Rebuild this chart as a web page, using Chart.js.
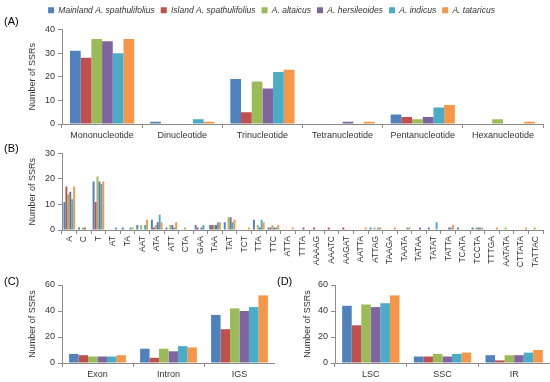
<!DOCTYPE html>
<html><head><meta charset="utf-8">
<script src="https://cdn.jsdelivr.net/npm/chart.js@4.4.0/dist/chart.umd.min.js"></script>
<style>
body{margin:0;background:#fff;width:550px;height:382px;overflow:hidden;position:relative;font-family:"Liberation Sans",Arial,sans-serif}
canvas{position:absolute}
.pl{position:absolute;font-size:11px;color:#000;line-height:12px}
</style></head><body>
<canvas id="cA" width="550" height="145" style="left:0;top:0"></canvas>
<canvas id="cB" width="550" height="125" style="left:0;top:145px"></canvas>
<canvas id="cC" width="275" height="112" style="left:0;top:270px"></canvas>
<canvas id="cD" width="275" height="112" style="left:275px;top:270px"></canvas>
<div class="pl" style="left:4px;top:15px">(A)</div>
<div class="pl" style="left:4px;top:142px">(B)</div>
<div class="pl" style="left:4px;top:275px">(C)</div>
<div class="pl" style="left:277px;top:275px">(D)</div>
<script>
const seriesNames = ['Mainland A. spathulifolius','Island A. spathulifolius','A. altaicus','A. hersileoides','A. indicus','A. tataricus'];
const seriesColors = ['#4F81BD','#C0504D','#9BBB59','#8064A2','#4BACC6','#F79646'];

// (A) SSR types
const typeCategories = ['Mononucleotide','Dinucleotide','Trinucleotide','Tetranucleotide','Pentanucleotide','Hexanucleotide'];
const typeMainland     = [31,1,19,0,4,0];
const typeIsland       = [28,0,5,0,3,0];
const typeAltaicus     = [36,0,18,0,2,2];
const typeHersileoides = [35,0,15,1,3,0];
const typeIndicus      = [30,2,22,0,7,0];
const typeTataricus    = [36,1,23,1,8,1];

// (B) repeat motifs
const motifCategories = ['A','C','T','AT','TA','AAT','ATA','ATT','CTA','GAA','TAA','TAT','TCT','TTA','TTC','ATTA','TTTA','AAAAG','AAATC','AAGAT','AATTA','ATTAG','TAAGA','TAATA','TATAA','TATAT','TATTA','TCATA','TCCTA','TTTGA','AATATA','CTTATA','TATTAC'];
const motifMainland     = [11,1,19,0,1,2,4,1,0,2,2,3,0,4,1,0,0,0,0,0,0,1,0,0,0,1,0,1,1,0,0,0,0];
const motifIsland       = [17,0,11,0,0,0,1,0,0,1,2,0,0,0,1,0,0,1,1,1,0,0,0,0,0,0,0,0,0,0,0,0,0];
const motifAltaicus     = [14,1,21,0,0,2,2,2,1,0,2,5,0,2,2,0,0,0,0,0,0,1,0,0,0,0,0,0,1,0,1,0,1];
const motifHersileoides = [15,1,19,0,0,0,3,2,0,1,2,5,0,1,1,0,1,0,0,0,0,0,0,0,1,0,1,0,1,0,0,0,0];
const motifIndicus      = [12,0,18,1,1,2,6,1,0,2,3,3,0,4,1,0,0,0,0,0,0,1,0,1,0,3,1,0,1,0,0,0,0];
const motifTataricus    = [17,0,19,0,1,4,3,3,0,0,3,4,1,3,2,1,0,0,0,0,1,1,1,1,0,0,2,0,1,1,0,1,0];

// (C) genic location
const locCategories = ['Exon','Intron','IGS'];
const locMainland     = [7,11,37];
const locIsland       = [6,4,26];
const locAltaicus     = [5,11,42];
const locHersileoides = [5,9,40];
const locIndicus      = [5,13,43];
const locTataricus    = [6,12,52];

// (D) genome region
const regCategories = ['LSC','SSC','IR'];
const regMainland     = [44,5,6];
const regIsland       = [29,5,2];
const regAltaicus     = [45,7,6];
const regHersileoides = [43,5,6];
const regIndicus      = [46,7,8];
const regTataricus    = [52,8,10];

Chart.defaults.font.family = '"Liberation Sans", Arial, sans-serif';
Chart.defaults.color = '#404040';
Chart.defaults.animation = false;
const AX = '#8c8c8c';

const legendGap = {
  id:'legendGap',
  beforeInit(chart, args, opts){
    if(!chart.legend) return;
    const fit = chart.legend.fit;
    chart.legend.fit = function(){ fit.call(this); this.height += opts.extra || 0; };
  }
};

function datasets(arrs){
  return arrs.map((d,i)=>({label:seriesNames[i], data:d, backgroundColor:seriesColors[i], borderWidth:0,
    categoryPercentage:0.8, barPercentage:1.0}));
}
function makeChart(id, labels, arrs, o){
  return new Chart(document.getElementById(id), {
    type:'bar',
    data:{labels:labels, datasets:datasets(arrs)},
    plugins:[legendGap],
    options:{
      responsive:false, animation:false,
      layout:{padding:o.padding},
      plugins:{
        legendGap:{extra:o.legendExtra||0},
        legend: o.legend ? {display:true, position:'top',
          labels:{boxWidth:6, boxHeight:6, padding:6, color:'#333',
            font:{size:8.5, style:'italic'}}} : {display:false},
        tooltip:{enabled:false}
      },
      scales:{
        x:{
          grid:{drawOnChartArea:false, offset:true, tickLength:4, color:AX},
          border:{display:true, color:AX},
          ticks:{autoSkip:false, font:{size:o.xfont}, color:'#333', padding:2,
            maxRotation:o.rot, minRotation:o.rot},
          afterFit:s=>{s.height=o.xh;}
        },
        y:{
          min:0, max:o.ymax,
          grid:{drawOnChartArea:false, tickLength:4, color:AX},
          border:{display:true, color:AX},
          ticks:{stepSize:o.step, font:{size:9}, color:'#333', padding:3},
          title:{display:true, text:'Number of SSRs', font:{size:9}, color:'#333', padding:{top:27,bottom:0}},
          afterFit:s=>{s.width=o.yw;}
        }
      }
    }
  });
}

makeChart('cA', typeCategories,
  [typeMainland,typeIsland,typeAltaicus,typeHersileoides,typeIndicus,typeTataricus],
  {padding:{left:0,right:7,top:0,bottom:0}, legend:true, legendExtra:5, xfont:9, rot:0, xh:21, ymax:40, step:10, yw:62});
makeChart('cB', motifCategories,
  [motifMainland,motifIsland,motifAltaicus,motifHersileoides,motifIndicus,motifTataricus],
  {padding:{left:0,right:7,top:6,bottom:0}, legend:false, xfont:8.5, rot:90, xh:40, ymax:30, step:10, yw:62});
makeChart('cC', locCategories,
  [locMainland,locIsland,locAltaicus,locHersileoides,locIndicus,locTataricus],
  {padding:{left:0,right:0,top:15,bottom:0}, legend:false, xfont:9, rot:0, xh:19, ymax:60, step:20, yw:62});
makeChart('cD', regCategories,
  [regMainland,regIsland,regAltaicus,regHersileoides,regIndicus,regTataricus],
  {padding:{left:0,right:0,top:15,bottom:0}, legend:false, xfont:9, rot:0, xh:19, ymax:60, step:20, yw:60});
</script>
</body></html>
